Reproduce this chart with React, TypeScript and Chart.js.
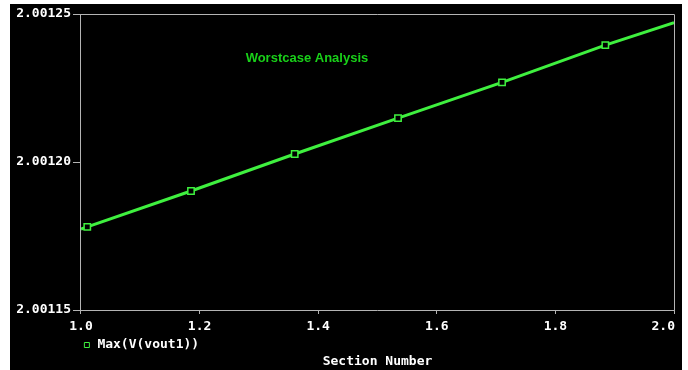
import React, { useEffect, useRef } from 'react';
import { Chart, registerables } from 'chart.js';

Chart.register(...registerables);

// ---- data ----
const sectionNumbers = [1.0, 1.0106, 1.1855, 1.3604, 1.5346, 1.71, 1.8842, 2.0];
const maxVout1 = [2.0011773, 2.0011781, 2.0011902, 2.0012027, 2.0012148, 2.0012269, 2.0012395, 2.0012471];
const markerRadii = [0, 4.5, 4.5, 4.5, 4.5, 4.5, 4.5, 0];
const xTicks = [1.0, 1.2, 1.4, 1.6, 1.8, 2.0];
const yTicks = [2.00115, 2.0012, 2.00125];
const seriesLabel = 'Max(V(vout1))';
const xTitle = 'Section Number';
const plotTitle = 'Worstcase Analysis';
const plotTitleAt = [1.381, 2.0012351];

const LINE_GREEN = '#3ff03f';
const TITLE_GREEN = '#19d019';
const AXIS_GRAY = '#b4b4b4';
const MONO = { family: '"DejaVu Sans Mono", monospace', weight: 'bold' as const, size: 13 };

const X_TICK_LEN = 4;
const X_TICK_PAD = 5;
const Y_TICK_LEN = 8;
const Y_TICK_PAD = 2;

const backgroundPlugin = {
  id: 'bgPanel',
  beforeDraw(chart: any) {
    const ctx = chart.ctx;
    ctx.save();
    ctx.fillStyle = '#ffffff';
    ctx.fillRect(0, 0, chart.width, chart.height);
    ctx.fillStyle = '#000000';
    ctx.fillRect(10, 4, 672, 366);
    ctx.restore();
    // keep the last x tick label inside the frame (right-aligned to its tick)
    const xs = chart.scales.x;
    const items = xs.getLabelItems();
    if (items && items.length) {
      const last = items[items.length - 1];
      last.options.textAlign = 'right';
      last.options.translation[0] = xs.right + 1;
    }
  },
};

const framePlugin = {
  id: 'frameAndNote',
  afterDraw(chart: any) {
    const { ctx, chartArea } = chart;
    const { left, right, top } = chartArea;
    ctx.save();
    ctx.strokeStyle = AXIS_GRAY;
    ctx.lineWidth = 1;
    ctx.beginPath();
    const t = Math.round(top) + 0.5;
    const r = Math.round(right) + 0.5;
    ctx.moveTo(left, t);
    ctx.lineTo(r, t);
    ctx.lineTo(r, chartArea.bottom + X_TICK_LEN);
    ctx.stroke();
    const xs = chart.scales.x;
    const ys = chart.scales.y;
    ctx.fillStyle = TITLE_GREEN;
    ctx.font = 'bold 13px "Liberation Sans", Arial, sans-serif';
    ctx.textAlign = 'center';
    ctx.textBaseline = 'middle';
    ctx.fillText(plotTitle, xs.getPixelForValue(plotTitleAt[0]), ys.getPixelForValue(plotTitleAt[1]));
    ctx.restore();
  },
};

export default function App() {
  const canvasRef = useRef<HTMLCanvasElement | null>(null);

  useEffect(() => {
    if (!canvasRef.current) return;
    const chart = new Chart(canvasRef.current, {
      type: 'line',
      data: {
        datasets: [
          {
            label: seriesLabel,
            data: sectionNumbers.map((x, i) => ({ x, y: maxVout1[i] })),
            borderColor: LINE_GREEN,
            borderWidth: 3,
            tension: 0,
            fill: false,
            pointStyle: 'rect',
            pointRadius: markerRadii,
            pointHoverRadius: markerRadii,
            pointBorderColor: LINE_GREEN,
            pointBackgroundColor: '#000000',
            pointBorderWidth: 1.5,
          },
        ],
      },
      options: {
        animation: false,
        responsive: false,
        maintainAspectRatio: false,
        events: [],
        layout: { padding: { left: 16.2, right: 14, top: 14, bottom: 0 } },
        scales: {
          x: {
            type: 'linear',
            min: 1.0,
            max: 2.0,
            afterBuildTicks: (s: any) => {
              s.ticks = xTicks.map((v) => ({ value: v }));
            },
            afterFit: (s: any) => {
              s.height = X_TICK_LEN + X_TICK_PAD + 15.6 + 2;
              s.paddingLeft = 0;
              s.paddingRight = 0;
            },
            grid: {
              display: true,
              drawOnChartArea: false,
              drawTicks: true,
              tickLength: X_TICK_LEN,
              color: AXIS_GRAY,
              lineWidth: 1,
            },
            border: { display: true, color: AXIS_GRAY, width: 1 },
            ticks: {
              color: '#ffffff',
              font: MONO,
              padding: X_TICK_PAD,
              autoSkip: false,
              maxRotation: 0,
              callback: (v: any) => Number(v).toFixed(1),
            },
          },
          y: {
            type: 'linear',
            min: 2.00115,
            max: 2.00125,
            afterBuildTicks: (s: any) => {
              s.ticks = yTicks.map((v) => ({ value: v }));
            },
            afterFit: (s: any) => {
              const ctx = s.ctx;
              ctx.save();
              ctx.font = 'bold 13px "DejaVu Sans Mono", monospace';
              const w = Math.max(...yTicks.map((v) => ctx.measureText(v.toFixed(5)).width));
              ctx.restore();
              s.width = Y_TICK_LEN + Y_TICK_PAD + w;
              s.paddingTop = 0;
              s.paddingBottom = 0;
            },
            grid: {
              display: true,
              drawOnChartArea: false,
              drawTicks: true,
              tickLength: Y_TICK_LEN,
              color: AXIS_GRAY,
              lineWidth: 1,
            },
            border: { display: true, color: AXIS_GRAY, width: 1 },
            ticks: {
              color: '#ffffff',
              font: MONO,
              padding: Y_TICK_PAD,
              autoSkip: false,
              callback: (v: any) => Number(v).toFixed(5),
            },
          },
        },
        plugins: {
          tooltip: { enabled: false },
          legend: {
            display: true,
            position: 'bottom',
            align: 'start',
            fullSize: false,
            labels: {
              color: '#ffffff',
              font: MONO,
              usePointStyle: true,
              pointStyle: 'rect',
              boxWidth: 8,
              boxHeight: 5,
              padding: 1.9,
              generateLabels: () => [
                {
                  text: seriesLabel,
                  fillStyle: '#000000',
                  strokeStyle: LINE_GREEN,
                  lineWidth: 1,
                  pointStyle: 'rect',
                  datasetIndex: 0,
                  hidden: false,
                  fontColor: '#ffffff',
                } as any,
              ],
            },
          },
          title: {
            display: true,
            position: 'bottom',
            fullSize: false,
            text: xTitle,
            color: '#ffffff',
            font: MONO,
            padding: { top: -7.3, bottom: 0.2 },
          },
        },
      } as any,
      plugins: [backgroundPlugin, framePlugin],
    });
    return () => chart.destroy();
  }, []);

  return (
    <div style={{ position: 'absolute', left: 0, top: 0, width: 688, height: 370 }}>
      <canvas ref={canvasRef} width={688} height={370} style={{ display: 'block' }} />
    </div>
  );
}
